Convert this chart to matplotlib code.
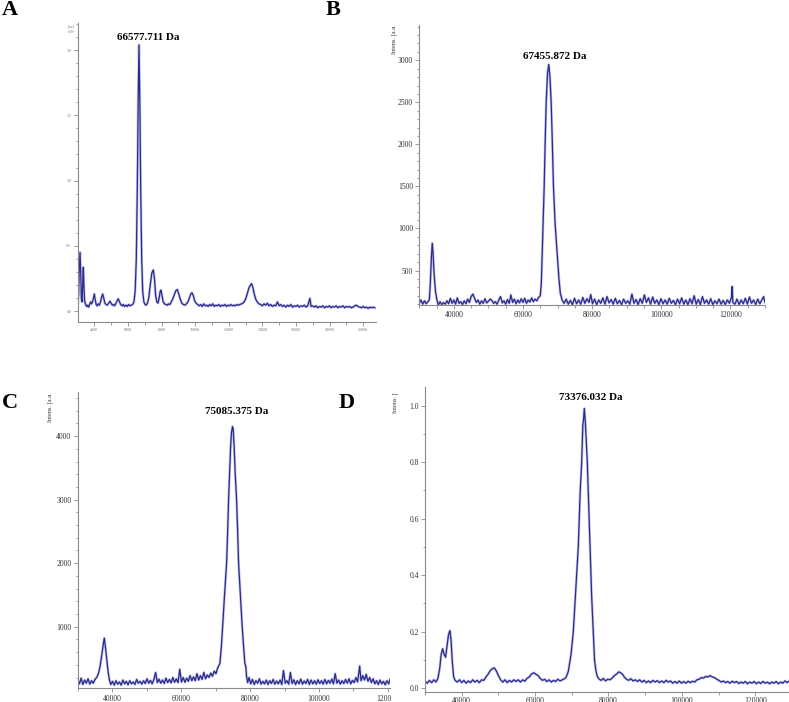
import numpy as np
import matplotlib.pyplot as plt
from matplotlib.ticker import MultipleLocator, FormatStrFormatter
from matplotlib.transforms import Bbox, TransformedBbox

plt.rcParams['font.family'] = ['Liberation Serif', 'DejaVu Serif']

# traced spectra: (mass, intensity)
spec_a = [
    (3010, 0.05), (3060, 0.12), (3100, 0.3), (3149, 0.45), (3190, 0.3), (3230, 0.1), (3270, 0.07),
    (3310, 0.2), (3345, 0.335), (3380, 0.2), (3420, 0.08), (3480, 0.05), (3540, 0.035), (3600, 0.045),
    (3660, 0.03), (3720, 0.05), (3780, 0.07), (3840, 0.055), (3900, 0.075), (3950, 0.1), (4000, 0.13),
    (4050, 0.09), (4110, 0.05), (4170, 0.04), (4230, 0.055), (4300, 0.045), (4370, 0.07), (4440, 0.11),
    (4500, 0.13), (4560, 0.1), (4630, 0.06), (4700, 0.05), (4770, 0.045), (4850, 0.06), (4934, 0.075),
    (5000, 0.06), (5070, 0.045), (5140, 0.05), (5210, 0.04), (5290, 0.06), (5360, 0.08), (5428, 0.094),
    (5500, 0.07), (5570, 0.05), (5650, 0.04), (5720, 0.05), (5800, 0.035), (5880, 0.045), (5960, 0.035),
    (6040, 0.05), (6120, 0.04), (6200, 0.045), (6280, 0.05), (6360, 0.07), (6430, 0.15), (6500, 0.4),
    (6560, 0.95), (6610, 1.6), (6660, 2.04), (6710, 1.6), (6760, 0.95), (6820, 0.4), (6880, 0.15),
    (6950, 0.07), (7020, 0.05), (7090, 0.045), (7160, 0.06), (7240, 0.1), (7330, 0.2), (7420, 0.29),
    (7511, 0.315), (7580, 0.25), (7650, 0.12), (7720, 0.07), (7790, 0.06), (7860, 0.1), (7920, 0.15),
    (7969, 0.16), (8030, 0.12), (8100, 0.07), (8180, 0.055), (8260, 0.05), (8340, 0.045), (8420, 0.055),
    (8500, 0.05), (8580, 0.07), (8660, 0.09), (8750, 0.12), (8850, 0.155), (8940, 0.165), (9030, 0.13),
    (9120, 0.09), (9210, 0.06), (9300, 0.05), (9390, 0.045), (9480, 0.055), (9570, 0.07), (9660, 0.1),
    (9740, 0.13), (9813, 0.14), (9890, 0.12), (9970, 0.08), (10060, 0.06), (10150, 0.05), (10240, 0.04),
    (10330, 0.05), (10420, 0.035), (10510, 0.055), (10600, 0.04), (10690, 0.045), (10780, 0.035),
    (10870, 0.05), (10960, 0.04), (11050, 0.055), (11140, 0.035), (11230, 0.045), (11320, 0.04),
    (11410, 0.05), (11500, 0.035), (11590, 0.045), (11680, 0.04), (11770, 0.05), (11860, 0.035),
    (11950, 0.045), (12040, 0.04), (12130, 0.05), (12220, 0.04), (12310, 0.045), (12400, 0.04),
    (12490, 0.05), (12580, 0.045), (12670, 0.05), (12760, 0.055), (12850, 0.06), (12940, 0.075),
    (13030, 0.1), (13120, 0.14), (13210, 0.18), (13300, 0.2), (13365, 0.21), (13440, 0.18), (13520, 0.13),
    (13610, 0.09), (13700, 0.07), (13800, 0.055), (13900, 0.05), (14000, 0.04), (14100, 0.055),
    (14200, 0.045), (14300, 0.06), (14400, 0.04), (14500, 0.05), (14600, 0.035), (14700, 0.045),
    (14800, 0.04), (14900, 0.07), (15000, 0.04), (15100, 0.05), (15200, 0.035), (15300, 0.045),
    (15400, 0.03), (15500, 0.045), (15600, 0.035), (15700, 0.05), (15800, 0.03), (15900, 0.04),
    (16000, 0.035), (16100, 0.045), (16200, 0.03), (16300, 0.04), (16400, 0.035), (16500, 0.045),
    (16600, 0.03), (16700, 0.04), (16834, 0.097), (16900, 0.035), (17000, 0.04), (17100, 0.03),
    (17200, 0.04), (17300, 0.025), (17400, 0.035), (17500, 0.03), (17600, 0.04), (17700, 0.025),
    (17800, 0.035), (17900, 0.03), (18000, 0.04), (18100, 0.025), (18200, 0.035), (18300, 0.03),
    (18400, 0.04), (18500, 0.025), (18600, 0.035), (18700, 0.03), (18800, 0.04), (18900, 0.025),
    (19000, 0.035), (19100, 0.03), (19200, 0.035), (19300, 0.025), (19400, 0.03), (19500, 0.04),
    (19600, 0.045), (19700, 0.035), (19800, 0.03), (19900, 0.025), (20000, 0.035), (20100, 0.025),
    (20200, 0.03), (20300, 0.02), (20400, 0.03), (20500, 0.025), (20600, 0.03), (20700, 0.025),
]

spec_b = [
    (30000, 110), (30500, 150), (31000, 100), (31500, 140), (32000, 105), (32500, 130), (32900, 150),
    (33200, 350), (33500, 650), (33750, 825), (34000, 700), (34300, 450), (34700, 250), (35100, 150),
    (35500, 90), (36000, 130), (36500, 95), (37000, 120), (37500, 100), (38000, 140), (38500, 105),
    (39000, 170), (39500, 110), (40000, 150), (40500, 100), (41000, 175), (41500, 110), (42000, 130),
    (42500, 95), (43000, 140), (43500, 105), (44000, 160), (44500, 120), (45000, 190), (45500, 220),
    (46000, 170), (46500, 120), (47000, 150), (47500, 100), (48000, 140), (48500, 110), (49000, 165),
    (49500, 115), (50000, 135), (50500, 160), (51000, 145), (51500, 110), (52000, 130), (52500, 100),
    (53000, 150), (53500, 190), (54000, 115), (54500, 140), (55000, 100), (55500, 155), (56000, 110),
    (56500, 210), (57000, 120), (57500, 160), (58000, 105), (58500, 150), (59000, 115), (59500, 165),
    (60000, 120), (60500, 170), (61000, 110), (61500, 150), (62000, 125), (62500, 175), (63000, 130),
    (63500, 160), (64000, 140), (64500, 180), (65000, 200), (65300, 350), (65560, 700), (65850, 1100),
    (66130, 1500), (66400, 2000), (66710, 2500), (67100, 2850), (67455, 2950), (67800, 2800),
    (68150, 2500), (68500, 2000), (68810, 1500), (69300, 1050), (69880, 700), (70400, 400),
    (70800, 230), (71300, 150), (71900, 110), (72500, 160), (73100, 100), (73700, 145), (74300, 95),
    (74900, 170), (75500, 105), (76100, 150), (76700, 100), (77300, 180), (77900, 110), (78500, 165),
    (79100, 120), (79600, 215), (80100, 105), (80700, 160), (81300, 95), (81900, 150), (82500, 110),
    (83100, 175), (83700, 100), (84300, 190), (84900, 115), (85500, 155), (86100, 100), (86700, 170),
    (87300, 105), (87900, 145), (88500, 95), (89100, 160), (89700, 110), (90300, 140), (90900, 100),
    (91500, 220), (92100, 110), (92700, 155), (93300, 95), (93900, 165), (94500, 110), (95100, 210),
    (95700, 120), (96300, 175), (96900, 100), (97500, 185), (98100, 110), (98700, 150), (99300, 95),
    (99900, 165), (100500, 105), (101100, 150), (101700, 100), (102300, 170), (102900, 110),
    (103500, 145), (104100, 95), (104700, 160), (105300, 105), (105900, 175), (106500, 100),
    (107100, 150), (107700, 95), (108300, 165), (108900, 105), (109500, 200), (110100, 100),
    (110700, 155), (111300, 95), (111900, 190), (112500, 110), (113100, 150), (113700, 100),
    (114300, 165), (114900, 95), (115500, 140), (116100, 105), (116700, 160), (117300, 100),
    (117900, 145), (118500, 95), (119100, 150), (119700, 110), (120300, 180), (120500, 310),
    (120700, 120), (121300, 100), (121900, 160), (122500, 95), (123100, 150), (123700, 105),
    (124300, 170), (124900, 100), (125500, 185), (126100, 110), (126700, 150), (127300, 95),
    (127900, 160), (128500, 105), (129100, 150), (129600, 190), (130000, 120),
]

spec_c = [
    (30000, 170), (30500, 100), (31000, 190), (31500, 90), (32000, 160), (32500, 110), (33000, 180),
    (33500, 95), (34000, 150), (34500, 110), (35000, 170), (35500, 200), (36000, 260), (36500, 380),
    (37000, 560), (37400, 720), (37710, 820), (38000, 700), (38400, 500), (38800, 300), (39200, 160),
    (39600, 90), (40100, 140), (40600, 80), (41100, 150), (41600, 95), (42100, 130), (42600, 80),
    (43100, 160), (43600, 100), (44100, 140), (44600, 85), (45100, 150), (45600, 100), (46100, 130),
    (46600, 90), (47100, 170), (47600, 110), (48100, 140), (48600, 95), (49100, 150), (49600, 105),
    (50100, 180), (50600, 110), (51100, 155), (51600, 100), (52100, 170), (52600, 280), (53100, 120),
    (53600, 175), (54100, 110), (54600, 160), (55100, 105), (55600, 190), (56100, 120), (56600, 170),
    (57100, 115), (57600, 200), (58100, 125), (58600, 180), (59100, 120), (59600, 330), (60100, 130),
    (60600, 200), (61100, 125), (61600, 190), (62100, 140), (62600, 230), (63100, 150), (63600, 210),
    (64100, 150), (64600, 260), (65100, 160), (65600, 230), (66100, 170), (66600, 280), (67100, 180),
    (67600, 240), (68100, 200), (68600, 270), (69100, 220), (69600, 300), (70100, 260), (70600, 350),
    (71250, 424), (71700, 700), (72030, 1000), (72600, 1500), (73190, 2000), (73500, 2500),
    (73770, 3000), (74050, 3400), (74350, 3830), (74600, 4050), (74900, 4150), (75100, 4120),
    (75390, 3830), (75700, 3400), (76090, 3000), (76400, 2500), (76670, 2000), (77200, 1500),
    (77720, 1000), (78100, 700), (78490, 424), (78750, 380), (79000, 210), (79300, 120), (79700, 200),
    (80200, 100), (80700, 170), (81200, 90), (81700, 150), (82200, 110), (82700, 180), (83200, 95),
    (83700, 140), (84200, 100), (84700, 160), (85200, 90), (85700, 150), (86200, 105), (86700, 170),
    (87200, 95), (87700, 145), (88200, 100), (88700, 160), (89200, 90), (89700, 310), (90200, 110),
    (90700, 150), (91200, 95), (91700, 280), (92200, 105), (92700, 165), (93200, 90), (93700, 150),
    (94200, 100), (94700, 175), (95200, 95), (95700, 145), (96200, 105), (96700, 170), (97200, 90),
    (97700, 160), (98200, 100), (98700, 150), (99200, 95), (99700, 165), (100200, 105), (100700, 150),
    (101200, 95), (101700, 170), (102200, 100), (102700, 155), (103200, 110), (103700, 175),
    (104200, 100), (104700, 260), (105200, 110), (105700, 160), (106200, 95), (106700, 150),
    (107200, 105), (107700, 170), (108200, 110), (108700, 180), (109200, 100), (109700, 155),
    (110200, 120), (110700, 200), (111200, 130), (111800, 380), (112200, 150), (112700, 230),
    (113200, 160), (113700, 250), (114200, 140), (114700, 200), (115200, 120), (115700, 180),
    (116200, 100), (116700, 150), (117200, 90), (117700, 160), (118200, 100), (118700, 140),
    (119200, 85), (119700, 150), (120200, 100), (120600, 170),
]

spec_d = [
    (30000, 0.025), (30600, 0.018), (31200, 0.028), (31800, 0.02), (32400, 0.03), (33000, 0.022),
    (33500, 0.035), (34000, 0.07), (34400, 0.12), (34800, 0.14), (35200, 0.12), (35600, 0.11),
    (36000, 0.15), (36400, 0.19), (36800, 0.204), (37100, 0.17), (37400, 0.1), (37800, 0.04),
    (38200, 0.028), (38800, 0.022), (39400, 0.03), (40000, 0.02), (40600, 0.028), (41200, 0.018),
    (41800, 0.026), (42400, 0.02), (43000, 0.03), (43600, 0.022), (44200, 0.028), (44800, 0.02),
    (45400, 0.03), (46000, 0.028), (46600, 0.04), (47200, 0.05), (47800, 0.063), (48400, 0.07),
    (48900, 0.072), (49400, 0.062), (50000, 0.045), (50600, 0.03), (51200, 0.022), (51800, 0.03),
    (52400, 0.02), (53000, 0.028), (53600, 0.022), (54200, 0.03), (54800, 0.024), (55400, 0.03),
    (56000, 0.022), (56600, 0.03), (57200, 0.025), (57800, 0.035), (58400, 0.04), (59000, 0.05),
    (59600, 0.055), (60200, 0.05), (60800, 0.045), (61400, 0.035), (62000, 0.028), (62600, 0.032),
    (63200, 0.024), (63800, 0.03), (64400, 0.022), (65000, 0.028), (65600, 0.024), (66200, 0.032),
    (66800, 0.026), (67400, 0.03), (68000, 0.034), (68500, 0.04), (69050, 0.06), (69800, 0.12),
    (70410, 0.2), (71100, 0.35), (71770, 0.5), (72300, 0.7), (72700, 0.8), (73000, 0.93),
    (73200, 0.95), (73410, 0.99), (73700, 0.94), (74000, 0.86), (74230, 0.8), (74600, 0.65),
    (74960, 0.5), (75400, 0.33), (75860, 0.2), (76200, 0.1), (76600, 0.06), (77000, 0.04),
    (77500, 0.032), (78000, 0.028), (78600, 0.035), (79200, 0.026), (79800, 0.032), (80400, 0.03),
    (81000, 0.036), (81600, 0.045), (82200, 0.05), (82800, 0.058), (83300, 0.055), (83800, 0.05),
    (84300, 0.04), (84900, 0.032), (85500, 0.028), (86100, 0.034), (86700, 0.026), (87300, 0.03),
    (87900, 0.024), (88500, 0.03), (89100, 0.022), (89700, 0.028), (90300, 0.02), (90900, 0.026),
    (91500, 0.02), (92100, 0.028), (92700, 0.022), (93300, 0.027), (93900, 0.02), (94500, 0.026),
    (95100, 0.02), (95700, 0.028), (96300, 0.022), (96900, 0.026), (97500, 0.018), (98100, 0.024),
    (98700, 0.018), (99300, 0.026), (99900, 0.018), (100500, 0.024), (101100, 0.018), (101700, 0.025),
    (102300, 0.02), (102900, 0.025), (103500, 0.022), (104100, 0.03), (104700, 0.032), (105300, 0.038),
    (105900, 0.036), (106500, 0.042), (107100, 0.04), (107700, 0.045), (108300, 0.04), (108900, 0.038),
    (109500, 0.032), (110100, 0.028), (110700, 0.022), (111300, 0.026), (111900, 0.02), (112500, 0.024),
    (113100, 0.018), (113700, 0.025), (114300, 0.02), (114900, 0.024), (115500, 0.017), (116100, 0.022),
    (116700, 0.018), (117300, 0.024), (117900, 0.016), (118500, 0.022), (119100, 0.018), (119700, 0.024),
    (120300, 0.016), (120900, 0.022), (121500, 0.017), (122100, 0.024), (122700, 0.018), (123300, 0.022),
    (123900, 0.016), (124500, 0.022), (125100, 0.018), (125700, 0.024), (126300, 0.016), (126900, 0.022),
    (127500, 0.018), (128100, 0.026), (128700, 0.02), (129200, 0.025),
]

peak_labels = ['66577.711 Da', '67455.872 Da', '75085.375 Da', '73376.032 Da']
panel_letters = ['A', 'B', 'C', 'D']

LINE = '#2a2a8e'
HALO = '#8c8cd2'
AXIS = '#8a8a8a'

fig = plt.figure(figsize=(7.89, 7.02), dpi=100)
ax_a = fig.add_axes([0.0985, 0.5417, 0.3781, 0.4259])
ax_b = fig.add_axes([0.5314, 0.5655, 0.4382, 0.3989])
ax_c = fig.add_axes([0.0985, 0.0195, 0.3958, 0.4225])
ax_d = fig.add_axes([0.5387, 0.0147, 0.4613, 0.4345])


def draw(ax, spec, xlim, ylim, xmaj, xmin, ymaj, ymin, yfmt, size, lw=0.9):
    x, y = np.array(spec).T
    # soft halo underneath, like the anti-aliased instrument trace
    ax.plot(x, y, color=HALO, lw=lw + 1.0, alpha=0.5, solid_joinstyle='round')
    ax.plot(x, y, color=LINE, lw=lw, solid_joinstyle='round')
    ax.set_xlim(*xlim)
    ax.set_ylim(*ylim)
    ax.patch.set_alpha(0)
    for s in ['top', 'right']:
        ax.spines[s].set_visible(False)
    for s in ['left', 'bottom']:
        ax.spines[s].set_color(AXIS)
        ax.spines[s].set_linewidth(0.8)
    ax.xaxis.set_major_locator(MultipleLocator(xmaj))
    ax.xaxis.set_minor_locator(MultipleLocator(xmin))
    ax.yaxis.set_major_locator(MultipleLocator(ymaj))
    ax.yaxis.set_minor_locator(MultipleLocator(ymin))
    ax.xaxis.set_major_formatter(FormatStrFormatter('%d'))
    ax.yaxis.set_major_formatter(FormatStrFormatter(yfmt))
    ax.tick_params(which='both', direction='out', color=AXIS, width=0.6,
                   labelsize=size, labelcolor='#333333', pad=1.5)
    ax.tick_params(which='major', length=3)
    ax.tick_params(which='minor', length=1.8)


draw(ax_a, spec_a, (3012, 20770), (-0.082, 2.21), 2000, 1000, 0.5, 0.1, '%.1f', 3)
ax_a.tick_params(labelcolor='#777777')
draw(ax_b, spec_b, (30000, 130000), (90, 3420), 20000, 5000, 500, 100, '%d', 5.5)
draw(ax_c, spec_c, (30000, 120600), (30, 4700), 20000, 10000, 1000, 200, '%d', 5.5)
draw(ax_d, spec_d, (30000, 129200), (-0.012, 1.067), 20000, 10000, 0.2, 0.1, '%.1f', 5.5)
ax_d.tick_params(axis='x', pad=0.8)

# "120000" is cut off at the panel edge in panel C
clip = TransformedBbox(Bbox([[0, 0], [391 / 789, 1]]), fig.transFigure)
for lbl in ax_c.get_xticklabels():
    lbl.set_clip_box(clip)
    lbl.set_clip_on(True)

# peak annotations
ax_a.text(7225, 2.10, peak_labels[0], ha='center', va='center', fontsize=8, fontweight='bold')
ax_b.text(69250, 3043, peak_labels[1], ha='center', va='center', fontsize=8, fontweight='bold')
ax_c.text(76170, 4383, peak_labels[2], ha='center', va='center', fontsize=8, fontweight='bold')
ax_d.text(75230, 1.030, peak_labels[3], ha='center', va='center', fontsize=8, fontweight='bold')

# y-axis labels (truncated as in the instrument export)
fig.text(71 / 789, 1 - 24 / 702, '[a.u]\nx10$^4$', fontsize=2.5, color='#666666',
         ha='center', va='top', linespacing=1.0)
fig.text(394 / 789, 1 - 25 / 702, 'Intens. [a.u', rotation=90, fontsize=4.5,
         ha='center', va='top', color='#333333')
fig.text(50 / 789, 1 - 393 / 702, 'Intens. [a.u', rotation=90, fontsize=4.5,
         ha='center', va='top', color='#333333')
fig.text(395 / 789, 1 - 392 / 702, 'Intens. [', rotation=90, fontsize=4.5,
         ha='center', va='top', color='#333333')

# panel letters
for letter, (px, py) in zip(panel_letters, [(10, 10), (333, 10), (10, 403), (347, 403)]):
    fig.text(px / 789, 1 - py / 702, letter, fontsize=16, fontweight='bold',
             ha='center', va='center')

plt.savefig('out.png', dpi=100)
